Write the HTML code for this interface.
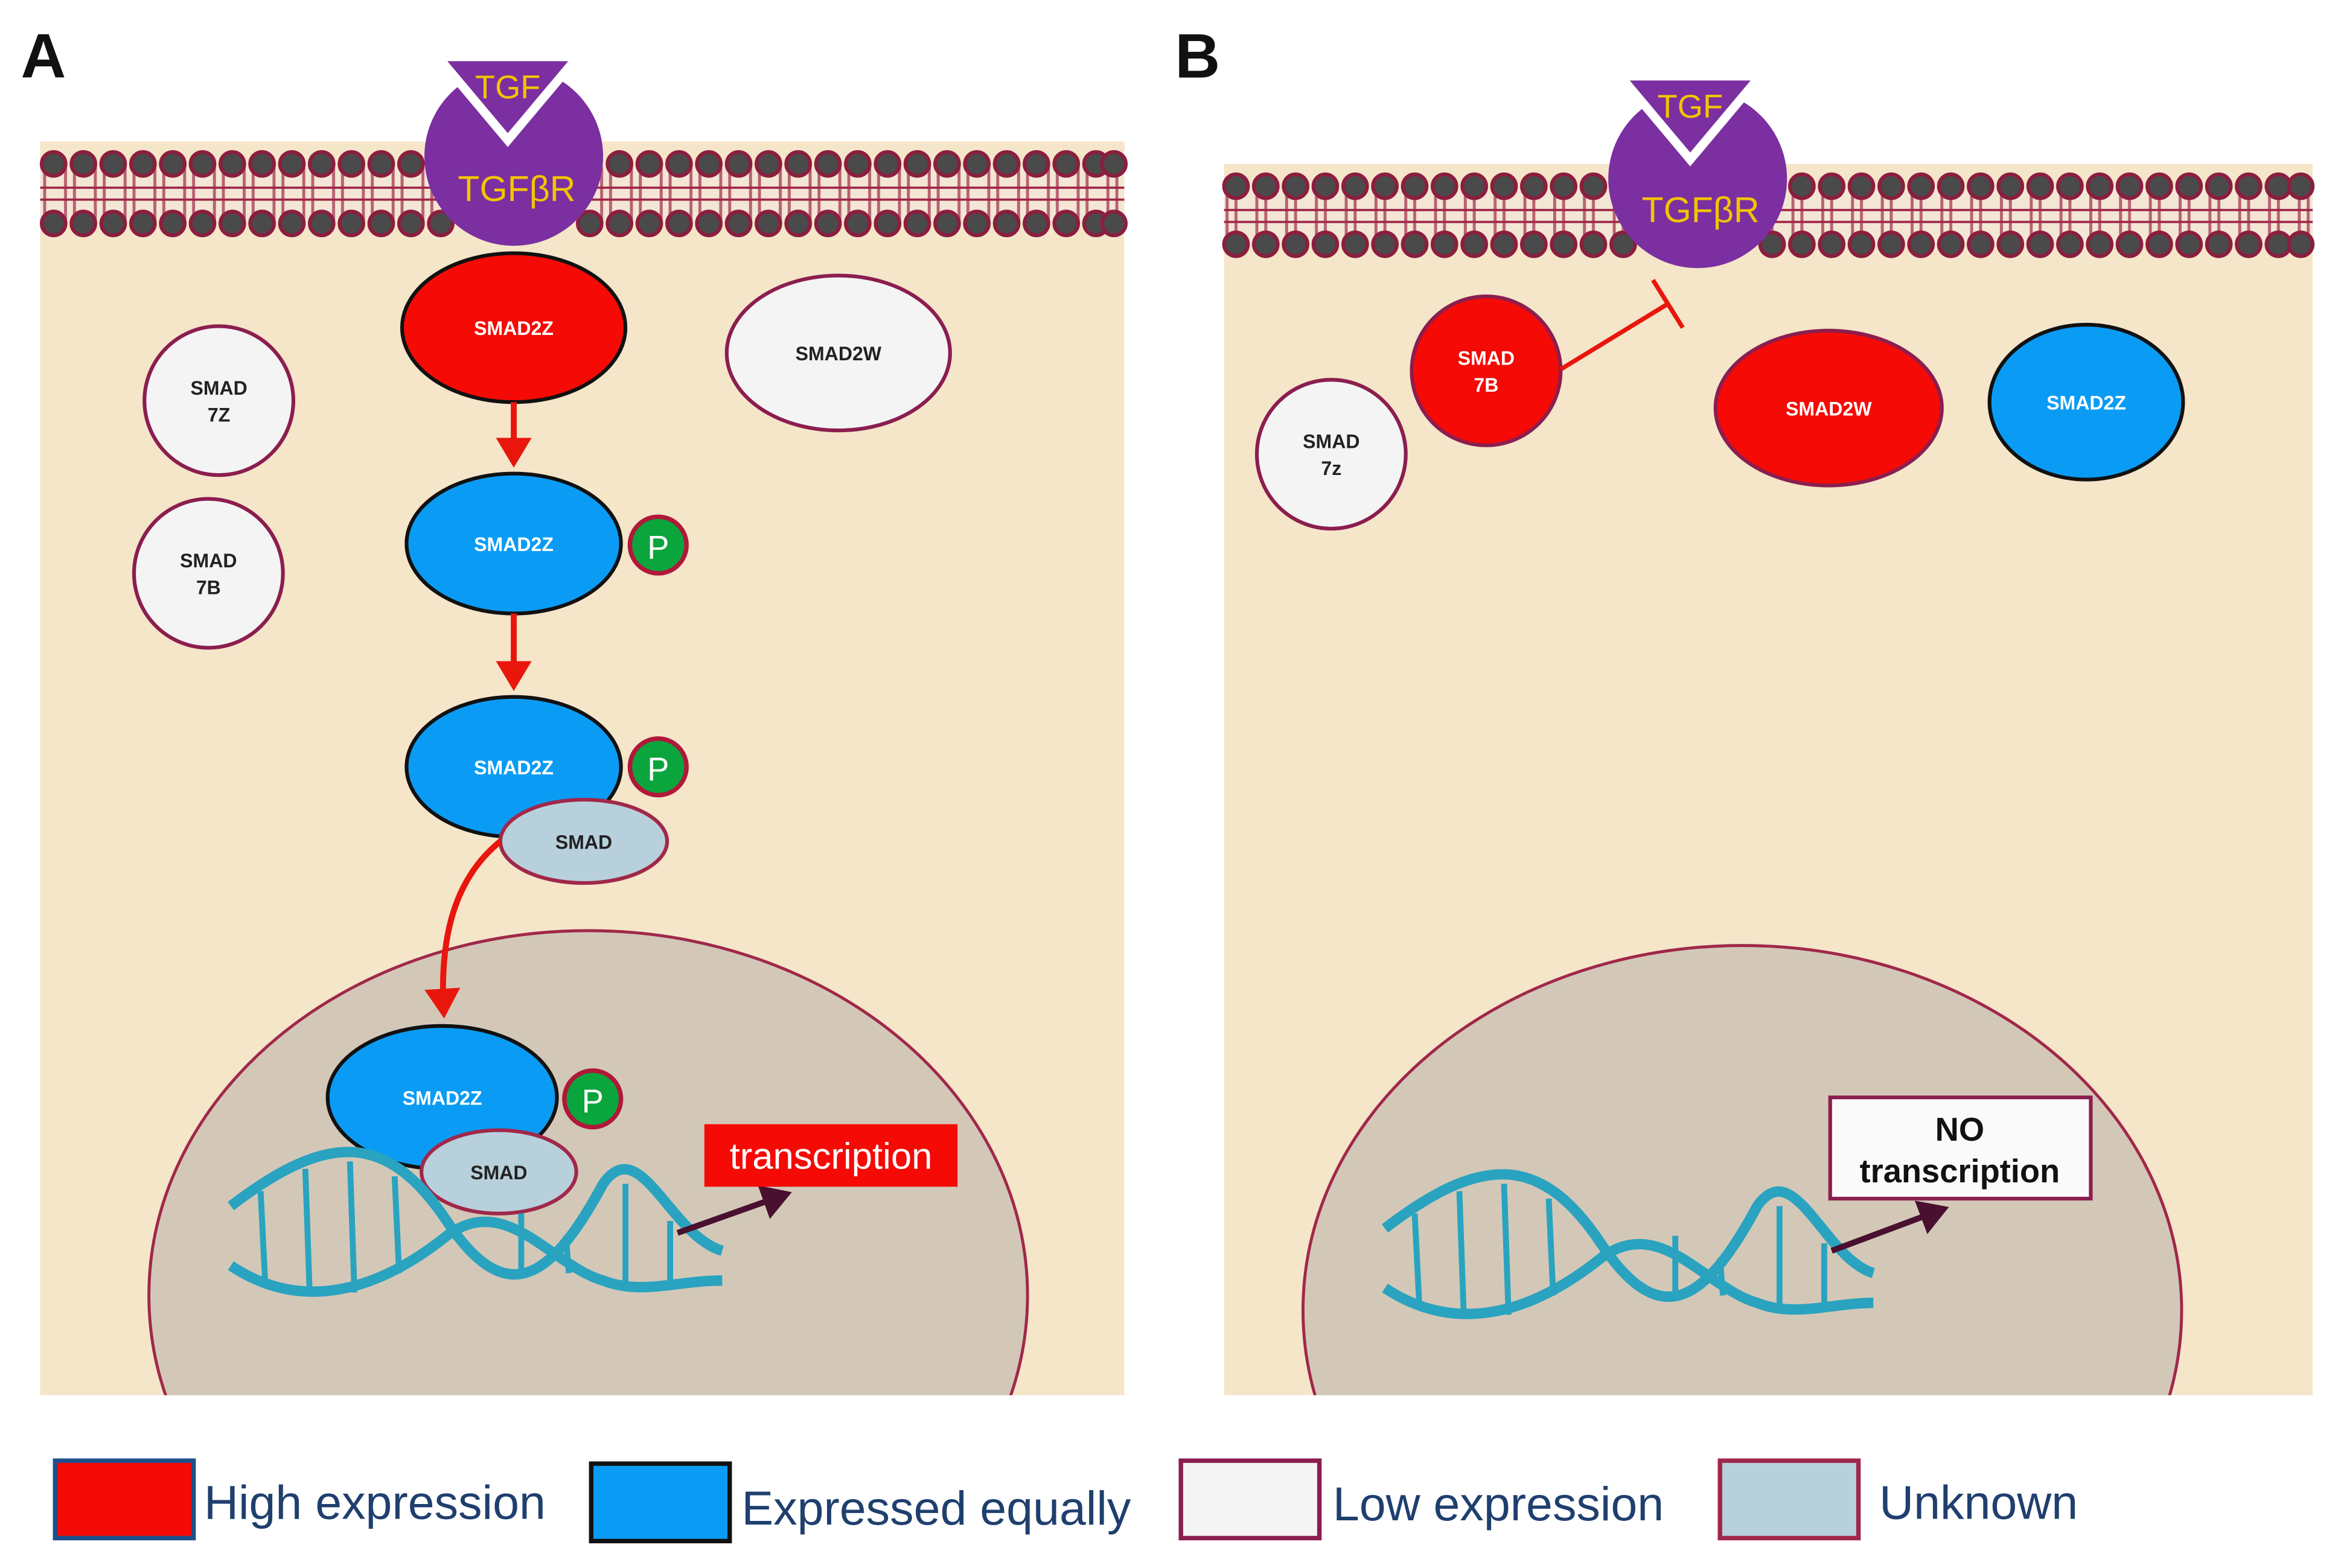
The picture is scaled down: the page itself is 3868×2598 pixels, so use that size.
<!DOCTYPE html>
<html><head><meta charset="utf-8"><style>
html,body{margin:0;padding:0;background:#fff;width:3868px;height:2598px;overflow:hidden}
svg{display:block}
</style></head><body>
<svg width="3868" height="2598" viewBox="0 0 1568 1053" xmlns="http://www.w3.org/2000/svg" font-family="Liberation Sans, sans-serif">
<defs>
<marker id="ar" markerWidth="6" markerHeight="6" refX="4" refY="3" orient="auto" markerUnits="strokeWidth"><path d="M0,0 L5,3 L0,6 z" fill="#e8160c"/></marker>
<marker id="ad" markerWidth="6" markerHeight="6" refX="4" refY="3" orient="auto" markerUnits="strokeWidth"><path d="M0,0 L5,3 L0,6 z" fill="#4a1030"/></marker>
<pattern id="tails" x="0" y="0" width="20" height="40" patternUnits="userSpaceOnUse">
<rect x="3" y="0" width="2" height="40" fill="#a0284a" opacity="0.7"/>
<rect x="9" y="0" width="2" height="40" fill="#a0284a" opacity="0.7"/>
</pattern>
<clipPath id="cA"><rect x="27" y="95" width="728" height="842"/></clipPath>
<clipPath id="cB"><rect x="822" y="110" width="731" height="827"/></clipPath>
</defs>
<text x="14" y="52" font-size="42" font-weight="bold" fill="#111">A</text>
<text x="789" y="52" font-size="42" font-weight="bold" fill="#111">B</text>

<!-- Panel A -->
<rect x="27" y="95" width="728" height="842" fill="#f5e5c9"/>
<g clip-path="url(#cA)">
<ellipse cx="395" cy="870" rx="295" ry="245" fill="#d3c8b8" stroke="#a0284a" stroke-width="2"/>
</g>
<rect x="27" y="112" width="728" height="36" fill="#f3e6d4"/>
<rect x="27" y="112" width="728" height="36" fill="url(#tails)"/>
<g stroke="#a0284a" stroke-width="1.5">
<line x1="27" y1="126" x2="755" y2="126"/><line x1="27" y1="134" x2="755" y2="134"/>
</g>

<!-- Panel B -->
<rect x="822" y="110" width="731" height="827" fill="#f5e5c9"/>
<g clip-path="url(#cB)">
<ellipse cx="1170" cy="880" rx="295" ry="245" fill="#d3c8b8" stroke="#a0284a" stroke-width="2"/>
</g>
<rect x="822" y="127" width="731" height="36" fill="#f3e6d4"/>
<rect x="822" y="127" width="731" height="36" fill="url(#tails)"/>
<g stroke="#a0284a" stroke-width="1.5">
<line x1="822" y1="141" x2="1553" y2="141"/><line x1="822" y1="149" x2="1553" y2="149"/>
</g>

<g fill="#4a4a4a" stroke="#8b1e3f" stroke-width="2.5">
<circle cx="36" cy="110" r="8"/><circle cx="56" cy="110" r="8"/><circle cx="76" cy="110" r="8"/><circle cx="96" cy="110" r="8"/><circle cx="116" cy="110" r="8"/><circle cx="136" cy="110" r="8"/><circle cx="156" cy="110" r="8"/><circle cx="176" cy="110" r="8"/><circle cx="196" cy="110" r="8"/><circle cx="216" cy="110" r="8"/><circle cx="236" cy="110" r="8"/><circle cx="256" cy="110" r="8"/><circle cx="276" cy="110" r="8"/><circle cx="416" cy="110" r="8"/><circle cx="436" cy="110" r="8"/><circle cx="456" cy="110" r="8"/><circle cx="476" cy="110" r="8"/><circle cx="496" cy="110" r="8"/><circle cx="516" cy="110" r="8"/><circle cx="536" cy="110" r="8"/><circle cx="556" cy="110" r="8"/><circle cx="576" cy="110" r="8"/><circle cx="596" cy="110" r="8"/><circle cx="616" cy="110" r="8"/><circle cx="636" cy="110" r="8"/><circle cx="656" cy="110" r="8"/><circle cx="676" cy="110" r="8"/><circle cx="696" cy="110" r="8"/><circle cx="716" cy="110" r="8"/><circle cx="736" cy="110" r="8"/><circle cx="748" cy="110" r="8"/>
<circle cx="36" cy="150" r="8"/><circle cx="56" cy="150" r="8"/><circle cx="76" cy="150" r="8"/><circle cx="96" cy="150" r="8"/><circle cx="116" cy="150" r="8"/><circle cx="136" cy="150" r="8"/><circle cx="156" cy="150" r="8"/><circle cx="176" cy="150" r="8"/><circle cx="196" cy="150" r="8"/><circle cx="216" cy="150" r="8"/><circle cx="236" cy="150" r="8"/><circle cx="256" cy="150" r="8"/><circle cx="276" cy="150" r="8"/><circle cx="296" cy="150" r="8"/><circle cx="396" cy="150" r="8"/><circle cx="416" cy="150" r="8"/><circle cx="436" cy="150" r="8"/><circle cx="456" cy="150" r="8"/><circle cx="476" cy="150" r="8"/><circle cx="496" cy="150" r="8"/><circle cx="516" cy="150" r="8"/><circle cx="536" cy="150" r="8"/><circle cx="556" cy="150" r="8"/><circle cx="576" cy="150" r="8"/><circle cx="596" cy="150" r="8"/><circle cx="616" cy="150" r="8"/><circle cx="636" cy="150" r="8"/><circle cx="656" cy="150" r="8"/><circle cx="676" cy="150" r="8"/><circle cx="696" cy="150" r="8"/><circle cx="716" cy="150" r="8"/><circle cx="736" cy="150" r="8"/><circle cx="748" cy="150" r="8"/>
<circle cx="830" cy="125" r="8"/><circle cx="850" cy="125" r="8"/><circle cx="870" cy="125" r="8"/><circle cx="890" cy="125" r="8"/><circle cx="910" cy="125" r="8"/><circle cx="930" cy="125" r="8"/><circle cx="950" cy="125" r="8"/><circle cx="970" cy="125" r="8"/><circle cx="990" cy="125" r="8"/><circle cx="1010" cy="125" r="8"/><circle cx="1030" cy="125" r="8"/><circle cx="1050" cy="125" r="8"/><circle cx="1070" cy="125" r="8"/><circle cx="1210" cy="125" r="8"/><circle cx="1230" cy="125" r="8"/><circle cx="1250" cy="125" r="8"/><circle cx="1270" cy="125" r="8"/><circle cx="1290" cy="125" r="8"/><circle cx="1310" cy="125" r="8"/><circle cx="1330" cy="125" r="8"/><circle cx="1350" cy="125" r="8"/><circle cx="1370" cy="125" r="8"/><circle cx="1390" cy="125" r="8"/><circle cx="1410" cy="125" r="8"/><circle cx="1430" cy="125" r="8"/><circle cx="1450" cy="125" r="8"/><circle cx="1470" cy="125" r="8"/><circle cx="1490" cy="125" r="8"/><circle cx="1510" cy="125" r="8"/><circle cx="1530" cy="125" r="8"/><circle cx="1545" cy="125" r="8"/>
<circle cx="830" cy="164" r="8"/><circle cx="850" cy="164" r="8"/><circle cx="870" cy="164" r="8"/><circle cx="890" cy="164" r="8"/><circle cx="910" cy="164" r="8"/><circle cx="930" cy="164" r="8"/><circle cx="950" cy="164" r="8"/><circle cx="970" cy="164" r="8"/><circle cx="990" cy="164" r="8"/><circle cx="1010" cy="164" r="8"/><circle cx="1030" cy="164" r="8"/><circle cx="1050" cy="164" r="8"/><circle cx="1070" cy="164" r="8"/><circle cx="1090" cy="164" r="8"/><circle cx="1190" cy="164" r="8"/><circle cx="1210" cy="164" r="8"/><circle cx="1230" cy="164" r="8"/><circle cx="1250" cy="164" r="8"/><circle cx="1270" cy="164" r="8"/><circle cx="1290" cy="164" r="8"/><circle cx="1310" cy="164" r="8"/><circle cx="1330" cy="164" r="8"/><circle cx="1350" cy="164" r="8"/><circle cx="1370" cy="164" r="8"/><circle cx="1390" cy="164" r="8"/><circle cx="1410" cy="164" r="8"/><circle cx="1430" cy="164" r="8"/><circle cx="1450" cy="164" r="8"/><circle cx="1470" cy="164" r="8"/><circle cx="1490" cy="164" r="8"/><circle cx="1510" cy="164" r="8"/><circle cx="1530" cy="164" r="8"/><circle cx="1545" cy="164" r="8"/>
</g>

<!-- Receptors -->
<circle cx="345" cy="105" r="60" fill="#7b2fa0"/>
<path d="M294,38 L388,38 L341,94 z" fill="#7b2fa0" stroke="#fff" stroke-width="6"/>
<text x="341" y="66" font-size="22" fill="#f2c400" text-anchor="middle">TGF</text>
<text x="347" y="135" font-size="24" fill="#f2c400" text-anchor="middle">TGFβR</text>
<circle cx="1140" cy="120" r="60" fill="#7b2fa0"/>
<path d="M1088,51 L1182,51 L1135,107 z" fill="#7b2fa0" stroke="#fff" stroke-width="6"/>
<text x="1135" y="79" font-size="22" fill="#f2c400" text-anchor="middle">TGF</text>
<text x="1142" y="149" font-size="24" fill="#f2c400" text-anchor="middle">TGFβR</text>

<g font-size="13" font-weight="bold" text-anchor="middle">
<ellipse cx="345" cy="220" rx="75" ry="50" fill="#f50a05" stroke="#111" stroke-width="2.5"/>
<text x="345" y="225" fill="#fff">SMAD2Z</text>
<ellipse cx="563" cy="237" rx="75" ry="52" fill="#f4f4f4" stroke="#8b1e4f" stroke-width="2.5"/>
<text x="563" y="242" fill="#222">SMAD2W</text>
<circle cx="147" cy="269" r="50" fill="#f4f4f4" stroke="#8b1e4f" stroke-width="2.5"/>
<text x="147" y="265" fill="#222">SMAD</text><text x="147" y="283" fill="#222">7Z</text>
<circle cx="140" cy="385" r="50" fill="#f4f4f4" stroke="#8b1e4f" stroke-width="2.5"/>
<text x="140" y="381" fill="#222">SMAD</text><text x="140" y="399" fill="#222">7B</text>

<line x1="345" y1="270" x2="345" y2="310" stroke="#e8160c" stroke-width="4" marker-end="url(#ar)"/>
<ellipse cx="345" cy="365" rx="72" ry="47" fill="#0a9cf5" stroke="#111" stroke-width="2.5"/>
<text x="345" y="370" fill="#fff">SMAD2Z</text>
<circle cx="442" cy="366" r="19" fill="#0aa53c" stroke="#b0183a" stroke-width="3"/>
<text x="442" y="375" font-size="22" fill="#fff" font-weight="normal">P</text>

<line x1="345" y1="412" x2="345" y2="460" stroke="#e8160c" stroke-width="4" marker-end="url(#ar)"/>
<ellipse cx="345" cy="515" rx="72" ry="47" fill="#0a9cf5" stroke="#111" stroke-width="2.5"/>
<text x="345" y="520" fill="#fff">SMAD2Z</text>
<circle cx="442" cy="515" r="19" fill="#0aa53c" stroke="#b0183a" stroke-width="3"/>
<text x="442" y="524" font-size="22" fill="#fff" font-weight="normal">P</text>
<ellipse cx="392" cy="565" rx="56" ry="28" fill="#b8d0dc" stroke="#a0284a" stroke-width="2.5"/>
<text x="392" y="570" fill="#222">SMAD</text>
<path d="M336,565 C305,590 295,630 298,680" fill="none" stroke="#e8160c" stroke-width="4" marker-end="url(#ar)"/>

<ellipse cx="297" cy="737" rx="77" ry="48" fill="#0a9cf5" stroke="#111" stroke-width="2.5"/>
<text x="297" y="742" fill="#fff">SMAD2Z</text>
<circle cx="398" cy="738" r="19" fill="#0aa53c" stroke="#b0183a" stroke-width="3"/>
<text x="398" y="747" font-size="22" fill="#fff" font-weight="normal">P</text>
<ellipse cx="335" cy="787" rx="52" ry="28" fill="#b8d0dc" stroke="#a0284a" stroke-width="2.5"/>
<text x="335" y="792" fill="#222">SMAD</text>

<circle cx="998" cy="249" r="50" fill="#f50a05" stroke="#8b1e4f" stroke-width="2.5"/>
<text x="998" y="245" fill="#fff">SMAD</text><text x="998" y="263" fill="#fff">7B</text>
<line x1="1048" y1="248" x2="1120" y2="204" stroke="#e8160c" stroke-width="3"/>
<line x1="1110" y1="188" x2="1130" y2="220" stroke="#e8160c" stroke-width="3"/>
<circle cx="894" cy="305" r="50" fill="#f4f4f4" stroke="#8b1e4f" stroke-width="2.5"/>
<text x="894" y="301" fill="#222">SMAD</text><text x="894" y="319" fill="#222">7z</text>
<ellipse cx="1228" cy="274" rx="76" ry="52" fill="#f50a05" stroke="#8b1e4f" stroke-width="2.5"/>
<text x="1228" y="279" fill="#fff">SMAD2W</text>
<ellipse cx="1401" cy="270" rx="65" ry="52" fill="#0a9cf5" stroke="#111" stroke-width="2.5"/>
<text x="1401" y="275" fill="#fff">SMAD2Z</text>
</g>

<g fill="none" stroke="#2aa3c0" stroke-width="7">
<path d="M155,810 C220,760 260,760 300,820 C340,880 370,860 405,795 C430,760 450,830 485,840"/>
<path d="M155,850 C200,880 250,870 300,830 C340,800 370,850 405,860 C430,870 455,860 485,860"/>
</g>
<g stroke="#2aa3c0" stroke-width="4">
<line x1="175" y1="800" x2="178" y2="860"/><line x1="205" y1="785" x2="208" y2="870"/><line x1="235" y1="780" x2="238" y2="868"/><line x1="265" y1="790" x2="268" y2="855"/><line x1="350" y1="858" x2="350" y2="815"/><line x1="380" y1="830" x2="382" y2="855"/><line x1="420" y1="795" x2="420" y2="865"/><line x1="450" y1="820" x2="450" y2="862"/>
</g>
<line x1="455" y1="828" x2="528" y2="802" stroke="#4a1030" stroke-width="4" marker-end="url(#ad)"/>
<rect x="473" y="755" width="170" height="42" fill="#f50a05"/>
<text x="558" y="785" font-size="25" fill="#fff" text-anchor="middle">transcription</text>

<g fill="none" stroke="#2aa3c0" stroke-width="7">
<path d="M930,825 C995,775 1035,775 1075,835 C1115,895 1145,875 1180,810 C1205,775 1225,845 1258,855"/>
<path d="M930,865 C975,895 1025,885 1075,845 C1115,815 1145,865 1180,875 C1205,885 1230,875 1258,875"/>
</g>
<g stroke="#2aa3c0" stroke-width="4">
<line x1="950" y1="815" x2="953" y2="875"/><line x1="980" y1="800" x2="983" y2="885"/><line x1="1010" y1="795" x2="1013" y2="883"/><line x1="1040" y1="805" x2="1043" y2="870"/><line x1="1125" y1="873" x2="1125" y2="830"/><line x1="1155" y1="845" x2="1157" y2="870"/><line x1="1195" y1="810" x2="1195" y2="880"/><line x1="1225" y1="835" x2="1225" y2="877"/>
</g>
<line x1="1230" y1="840" x2="1305" y2="812" stroke="#4a1030" stroke-width="4" marker-end="url(#ad)"/>
<rect x="1229" y="737" width="175" height="68" fill="#fafafa" stroke="#8b1e4f" stroke-width="2.5"/>
<text x="1316" y="766" font-size="22" font-weight="bold" fill="#111" text-anchor="middle">NO</text>
<text x="1316" y="794" font-size="22" font-weight="bold" fill="#111" text-anchor="middle">transcription</text>

<rect x="37" y="981" width="93" height="52" fill="#f50a05" stroke="#1e4f8a" stroke-width="3"/>
<text x="137" y="1020" font-size="32" fill="#1f3f6e">High expression</text>
<rect x="397" y="983" width="93" height="52" fill="#0a9cf5" stroke="#111" stroke-width="3"/>
<text x="498" y="1024" font-size="32" fill="#1f3f6e">Expressed equally</text>
<rect x="793" y="981" width="93" height="52" fill="#f4f4f4" stroke="#8b1e4f" stroke-width="3"/>
<text x="895" y="1021" font-size="32" fill="#1f3f6e">Low expression</text>
<rect x="1155" y="981" width="93" height="52" fill="#b8d0dc" stroke="#a0284a" stroke-width="3"/>
<text x="1262" y="1020" font-size="32" fill="#1f3f6e">Unknown</text>
</svg>
</body></html>
